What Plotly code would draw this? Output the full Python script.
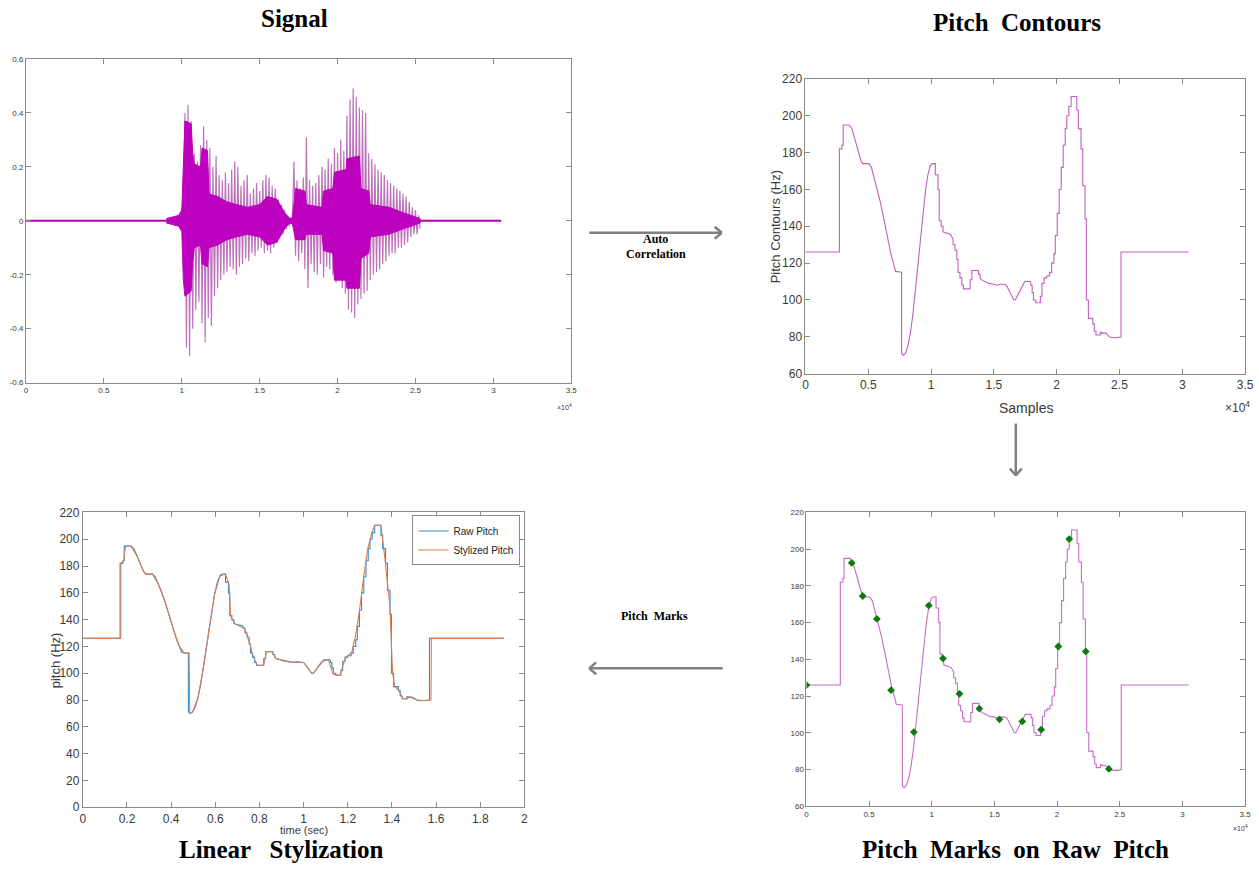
import plotly.graph_objects as go

# ---------------- DATA ----------------
# Signal: per-bin envelope of the waveform
SIG_BIN_START = 9800
SIG_BIN_STEP = 200
SIG_MAX = [0.02, 0.05, 0.40, 0.43, 0.37, 0.25, 0.22, 0.28, 0.35, 0.30, 0.27, 0.20, 0.24, 0.17,
           0.15, 0.18, 0.14, 0.19, 0.22, 0.20, 0.13, 0.15, 0.17, 0.10, 0.12, 0.14, 0.11, 0.15,
           0.17, 0.16, 0.13, 0.12, 0.08, 0.06, 0.04, 0.02, 0.01, 0.22, 0.15, 0.12, 0.16, 0.31,
           0.15, 0.13, 0.14, 0.17, 0.20, 0.19, 0.23, 0.21, 0.27, 0.25, 0.30, 0.26, 0.39, 0.45,
           0.49, 0.46, 0.42, 0.41, 0.40, 0.25, 0.23, 0.21, 0.19, 0.18, 0.17, 0.15, 0.14, 0.13,
           0.12, 0.11, 0.10, 0.09, 0.07, 0.05, 0.04, 0.02]
SIG_MIN = [-0.02, -0.06, -0.47, -0.50, -0.40, -0.33, -0.30, -0.38, -0.45, -0.36, -0.39, -0.28,
           -0.25, -0.22, -0.20, -0.19, -0.17, -0.18, -0.20, -0.17, -0.16, -0.14, -0.15, -0.12,
           -0.13, -0.11, -0.10, -0.12, -0.11, -0.12, -0.10, -0.08, -0.06, -0.05, -0.03, -0.02,
           -0.01, -0.13, -0.15, -0.12, -0.18, -0.25, -0.16, -0.19, -0.20, -0.16, -0.21, -0.17,
           -0.18, -0.20, -0.23, -0.21, -0.25, -0.27, -0.33, -0.34, -0.36, -0.31, -0.29, -0.27,
           -0.26, -0.22, -0.20, -0.19, -0.18, -0.16, -0.15, -0.13, -0.12, -0.12, -0.10, -0.10,
           -0.09, -0.08, -0.06, -0.05, -0.05, -0.03]
# dense (solid) core of the waveform
CORE_X = [9000, 9800, 10000, 10100, 10200, 10600, 10700, 10800, 11200, 11300, 11650, 11750,
          12300, 12900, 13500, 14200, 15000, 15500, 16100, 16600, 16900, 17100, 17300, 17900,
          18000, 19000, 19100, 19700, 19800, 20550, 20600, 21400, 21500, 22000, 22100, 23300,
          24200, 25000, 25300]
CORE_UP = [0.008, 0.02, 0.04, 0.25, 0.37, 0.36, 0.25, 0.21, 0.20, 0.27, 0.26, 0.10, 0.09, 0.07,
           0.06, 0.05, 0.06, 0.09, 0.08, 0.03, 0.01, 0.01, 0.12, 0.11, 0.06, 0.05, 0.11, 0.12,
           0.18, 0.19, 0.23, 0.24, 0.12, 0.11, 0.06, 0.05, 0.03, 0.015, 0.008]
CORE_LO = [-0.008, -0.02, -0.04, -0.22, -0.28, -0.26, -0.15, -0.10, -0.09, -0.16, -0.17, -0.10,
           -0.09, -0.07, -0.06, -0.05, -0.06, -0.09, -0.08, -0.03, -0.01, -0.01, -0.07, -0.07,
           -0.05, -0.05, -0.11, -0.12, -0.22, -0.22, -0.25, -0.25, -0.14, -0.12, -0.06, -0.05,
           -0.03, -0.015, -0.008]
NOISE_SEGMENTS = [(0, 9000), (25300, 30500)]

# Pitch contour (samples, Hz)
PC_X = [0, 2700, 2700, 2900, 2900, 3000, 3000, 3480, 3700, 3900, 4150, 4400, 4550, 5050, 5250,
        5450, 5700, 6000, 6300, 6550, 6800, 7000, 7170, 7650, 7650, 7780, 7950, 8150, 8350,
        8550, 8750, 8950, 9150, 9350, 9550, 9750, 9950, 10100, 10340, 10340, 10550, 10550,
        10650, 10650, 10800, 10800, 10950, 10950, 11300, 11550, 11750, 11750, 11900, 11900,
        12050, 12050, 12150, 12150, 12300, 12300, 12450, 12450, 12580, 12580, 13110, 13110,
        13250, 13250, 13770, 13770, 13900, 13900, 14000, 14300, 14600, 15000, 15300, 15500,
        15800, 16000, 16150, 16350, 16590, 16700, 16850, 17050, 17300, 17460, 17910, 17950,
        18050, 18050, 18150, 18150, 18330, 18330, 18700, 18700, 18830, 18830, 19000, 19000,
        19200, 19200, 19440, 19440, 19600, 19600, 19780, 19780, 19890, 19890, 20045, 20045,
        20200, 20200, 20360, 20360, 20520, 20520, 20680, 20680, 20810, 20810, 20970, 20970,
        21150, 21150, 21600, 21600, 21730, 21730, 21940, 21940, 22075, 22075, 22260, 22260,
        22365, 22365, 22525, 22525, 22870, 22870, 23000, 23000, 23130, 23130, 23470, 23470,
        23580, 23580, 23920, 24190, 24450, 24850, 25120, 25120, 30500]
PC_Y = [126, 126, 182, 182, 184, 184, 195, 195, 193, 188, 181, 176, 174, 174, 172,
        167, 161, 152, 142, 133, 125, 120, 115.5, 115, 71, 70, 71, 75, 82,
        92, 105, 120, 133, 147, 159, 168, 173, 174, 174, 168, 168, 160,
        160, 143, 143, 140, 140, 137, 136, 135.5, 133, 130, 130, 127,
        127, 122, 122, 115, 115, 112, 112, 108, 108, 106, 106, 111,
        111, 116, 116, 114, 114, 112, 111, 110, 109, 108.5, 108, 108.5,
        108.5, 108, 106, 103, 100, 100, 102, 105, 108.5, 110, 110, 108,
        108, 104, 104, 100, 100, 98.5, 98.5, 102, 102, 109, 109, 112,
        112, 113, 113, 115, 115, 120, 120, 125, 125, 135, 135, 147,
        147, 160, 160, 172, 172, 184, 184, 193, 193, 200, 200, 205,
        205, 210.5, 210.5, 203, 203, 193, 193, 182, 182, 162, 162, 144,
        144, 100, 100, 90, 90, 87, 87, 83, 83, 81, 81, 82.5,
        82.5, 82, 82, 80, 79.5, 79.5, 80, 126, 126]

# Linear stylization (samples, Hz)
ST_X = [0, 2750, 2750, 2950, 3100, 3480, 3900, 4400, 4600, 5050, 5450, 6000, 6550, 7000, 7350,
        7700, 7750, 7950, 8350, 8750, 9150, 9550, 9950, 10340, 10600, 10700, 11000, 11750,
        12100, 12350, 12650, 13100, 13300, 13700, 14000, 15000, 16000, 16590, 16700, 17300,
        17800, 18150, 18650, 18850, 19100, 19500, 19800, 20050, 20350, 20650, 20950, 21150,
        21600, 21900, 22250, 22450, 22600, 22900, 23200, 23500, 23700, 24200, 24800, 25230,
        25260, 30500]
ST_Y = [126, 126, 182, 184, 195, 195, 188, 176, 174, 174, 167, 152, 133, 120, 115,
        115, 70, 71, 82, 105, 133, 159, 173, 174, 166, 143, 137, 133,
        122, 112, 106, 106, 116, 116, 111, 108.5, 108, 100, 100, 108.5,
        110, 99, 98.5, 106, 112, 116, 130, 147, 172, 193, 205, 210.5,
        210.5, 185, 150, 100, 90, 87, 81, 81, 82.5, 80, 79.5, 80,
        126, 126]
SAMPLE_RATE = 16000

# Pitch marks
MARK_X = [0, 3613, 4484, 5618, 6752, 8572, 9759, 10893, 12212, 13794, 15403, 17223, 18726,
          20098, 20968, 22287, 24133]
MARK_Y = [126, 192.5, 174.5, 162, 123.2, 100.4, 169.3, 140.5, 121.2, 113.1, 107.3, 106.2,
          101.7, 147, 205.5, 144.3, 80.3]

SAMPLE_TICKS = [0, 5000, 10000, 15000, 20000, 25000, 30000, 35000]
SAMPLE_TICKTEXT = ["0", "0.5", "1", "1.5", "2", "2.5", "3", "3.5"]
SIG_YTICKS = [-0.6, -0.4, -0.2, 0, 0.2, 0.4, 0.6]
SIG_YTICKTEXT = ["-0.6", "-0.4", "-0.2", "0", "0.2", "0.4", "0.6"]
TIME_TICKS = [0, 0.2, 0.4, 0.6, 0.8, 1.0, 1.2, 1.4, 1.6, 1.8, 2.0]
TIME_TICKTEXT = ["0", "0.2", "0.4", "0.6", "0.8", "1", "1.2", "1.4", "1.6", "1.8", "2"]

# ---------------- FIGURE ----------------
W, H = 1259, 875
# calibration of the page capture (offset and scale observed in the photographs)
X_OFF, X_SCALE = 1.9, 0.9937
Y_OFF, Y_SCALE = 6.0, 0.985
def px(x):
    return ((x - X_OFF) / X_SCALE) / W
def py(y):
    return 1 - ((y - Y_OFF) / Y_SCALE) / H

fig = go.Figure()

# Panel 1: signal
spike_x, spike_y = [], []
for i, (mx, mn) in enumerate(zip(SIG_MAX, SIG_MIN)):
    xb = SIG_BIN_START + i * SIG_BIN_STEP
    spike_x += [xb, xb + SIG_BIN_STEP / 2]
    spike_y += [mx, mn]
fig.add_trace(go.Scatter(x=spike_x, y=spike_y, mode="lines",
                         line=dict(color="rgba(176,90,176,0.85)", width=1.2),
                         xaxis="x", yaxis="y", showlegend=False, hoverinfo="skip"))
fig.add_trace(go.Scatter(x=CORE_X + CORE_X[::-1], y=CORE_UP + CORE_LO[::-1], mode="lines",
                         fill="toself", fillcolor="#bd00bd", line=dict(color="#bd00bd", width=1),
                         xaxis="x", yaxis="y", showlegend=False, hoverinfo="skip"))
for a, b in NOISE_SEGMENTS:
    fig.add_trace(go.Scatter(x=[a, b], y=[0, 0], mode="lines",
                             line=dict(color="#b400b4", width=2),
                             xaxis="x", yaxis="y", showlegend=False, hoverinfo="skip"))

# Panel 2: pitch contours
fig.add_trace(go.Scatter(x=PC_X, y=PC_Y, mode="lines", line=dict(color="#c35ec3", width=1.1),
                         xaxis="x2", yaxis="y2", showlegend=False))

# Panel 3: linear stylization
fig.add_trace(go.Scatter(x=[v / SAMPLE_RATE for v in PC_X], y=PC_Y, mode="lines",
                         name="Raw Pitch", line=dict(color="#2f8fcf", width=1.1),
                         xaxis="x3", yaxis="y3"))
fig.add_trace(go.Scatter(x=[v / SAMPLE_RATE for v in ST_X], y=ST_Y, mode="lines",
                         name="Stylized Pitch", line=dict(color="#e07b4c", width=1.1),
                         xaxis="x3", yaxis="y3"))

# Panel 4: pitch marks on raw pitch
fig.add_trace(go.Scatter(x=PC_X, y=PC_Y, mode="lines", line=dict(color="#c86ac8", width=1.1),
                         xaxis="x4", yaxis="y4", showlegend=False))
fig.add_trace(go.Scatter(x=MARK_X, y=MARK_Y, mode="markers",
                         marker=dict(symbol="diamond", size=6, color="#0c7a0c"),
                         xaxis="x4", yaxis="y4", showlegend=False))

TICKFAMILY = "Liberation Sans Narrow, Liberation Sans, Arial"
def ax(domain, rng, anchor, size, **kw):
    d = dict(domain=domain, range=rng, anchor=anchor, showline=True, linecolor="#8a8a8a",
             linewidth=1, mirror="ticks", ticks="inside", ticklen=5, tickcolor="#8a8a8a",
             showgrid=False, zeroline=False,
             tickfont=dict(family=TICKFAMILY, size=size, color="#3a3a3a"))
    d.update(kw)
    return d

fig.update_layout(
    width=W, height=H, margin=dict(l=0, r=0, t=0, b=0),
    paper_bgcolor="white", plot_bgcolor="white",
    xaxis=ax([px(25), px(572)], [0, 35000], "y", 8, tickvals=SAMPLE_TICKS, ticktext=SAMPLE_TICKTEXT),
    yaxis=ax([py(382), py(58)], [-0.6, 0.6], "x", 8, tickvals=SIG_YTICKS, ticktext=SIG_YTICKTEXT),
    xaxis2=ax([px(807), px(1248)], [0, 35000], "y2", 12, tickvals=SAMPLE_TICKS, ticktext=SAMPLE_TICKTEXT),
    yaxis2=ax([py(373), py(78)], [60, 220], "x2", 12, dtick=20),
    xaxis3=ax([px(82), px(525)], [0, 2], "y3", 12, tickvals=TIME_TICKS, ticktext=TIME_TICKTEXT),
    yaxis3=ax([py(807), py(512)], [0, 220], "x3", 12, dtick=20),
    xaxis4=ax([px(808), px(1248)], [0, 35000], "y4", 8, tickvals=SAMPLE_TICKS, ticktext=SAMPLE_TICKTEXT),
    yaxis4=ax([py(806), py(512)], [60, 220], "x4", 8, dtick=20),
    legend=dict(x=px(521), y=py(515), xanchor="right", yanchor="top", bgcolor="white",
                bordercolor="#8a8a8a", borderwidth=1, tracegroupgap=0, itemwidth=30,
                font=dict(family=TICKFAMILY, size=10, color="#222")),
)

TITLE_FONT = dict(family="Liberation Serif, Times New Roman, serif", size=25, color="black")
SMALL_SERIF = dict(family="Liberation Serif, serif", size=12, color="black")
LABEL_FONT = dict(family=TICKFAMILY, size=13, color="#3a3a3a")
ann = [
    dict(text="<b>Signal</b>", x=px(294), y=py(18), font=TITLE_FONT),
    dict(text="<b>Pitch  Contours</b>", x=px(1019), y=py(22), font=TITLE_FONT),
    dict(text="<b>Linear   Stylization</b>", x=px(281), y=py(849), font=TITLE_FONT),
    dict(text="<b>Pitch  Marks  on  Raw  Pitch</b>", x=px(1018), y=py(849), font=TITLE_FONT),
    dict(text="<b>Auto</b>", x=px(657), y=py(238), font=SMALL_SERIF),
    dict(text="<b>Correlation</b>", x=px(657), y=py(253), font=SMALL_SERIF),
    dict(text="<b>Pitch  Marks</b>", x=px(656), y=py(616), font=SMALL_SERIF),
    dict(text="Samples", x=px(1028), y=py(407), font=dict(family=TICKFAMILY, size=14, color="#3a3a3a")),
    dict(text="Pitch Contours (Hz)", x=px(777), y=py(226), textangle=-90, font=LABEL_FONT),
    dict(text="time (sec)", x=px(304), y=py(830), font=dict(family=TICKFAMILY, size=11, color="#3a3a3a")),
    dict(text="pitch (Hz)", x=px(54), y=py(660), textangle=-90, font=LABEL_FONT),
    dict(text="×10<sup>4</sup>", x=px(1240), y=py(406),
         font=dict(family=TICKFAMILY, size=12, color="#3a3a3a")),
    dict(text="×10<sup>4</sup>", x=px(565), y=py(406),
         font=dict(family=TICKFAMILY, size=7, color="#3a3a3a")),
    dict(text="×10<sup>4</sup>", x=px(1243), y=py(828),
         font=dict(family=TICKFAMILY, size=7, color="#3a3a3a")),
]
for a in ann:
    a.update(xref="paper", yref="paper", showarrow=False, xanchor="center", yanchor="middle")
fig.update_layout(annotations=ann)

# Arrows (decorative connectors between panels)
ARROW = dict(color="#808080", width=2.5)
def seg(x0, y0, x1, y1):
    return dict(type="line", xref="paper", yref="paper", x0=px(x0), y0=py(y0),
                x1=px(x1), y1=py(y1), line=ARROW)
shapes = [
    seg(590, 232, 723, 232), seg(723, 232, 716, 226), seg(723, 232, 716, 238),
    seg(1018, 423, 1018, 475), seg(1018, 475, 1012, 468), seg(1018, 475, 1024, 468),
    seg(724, 668, 590, 668), seg(590, 668, 597, 662), seg(590, 668, 597, 674),
]
fig.update_layout(shapes=shapes)

fig.write_html("out.html")
